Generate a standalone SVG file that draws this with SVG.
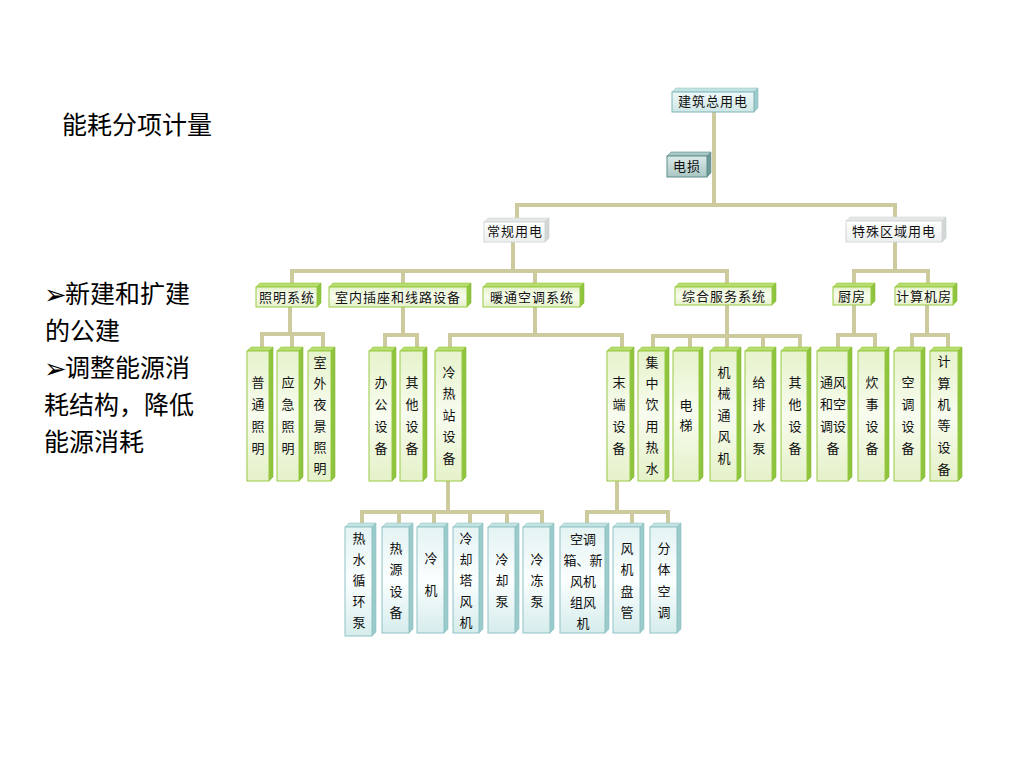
<svg xmlns="http://www.w3.org/2000/svg" width="1024" height="768" viewBox="0 0 1024 768">
<defs>
<linearGradient id="gG" x1="0" y1="0" x2="0" y2="1">
<stop offset="0" stop-color="#e6f3cc"/><stop offset="0.5" stop-color="#f8fcef"/><stop offset="1" stop-color="#e4f1c8"/>
</linearGradient>
<linearGradient id="gB" x1="0" y1="0" x2="0" y2="1">
<stop offset="0" stop-color="#e4f3f3"/><stop offset="0.5" stop-color="#fbfefe"/><stop offset="1" stop-color="#d6ecec"/>
</linearGradient>
<linearGradient id="gT" x1="0" y1="0" x2="0" y2="1">
<stop offset="0" stop-color="#eef8f8"/><stop offset="1" stop-color="#cfe7e6"/>
</linearGradient>
<linearGradient id="gW" x1="0" y1="0" x2="0" y2="1">
<stop offset="0" stop-color="#ffffff"/><stop offset="1" stop-color="#eceff0"/>
</linearGradient>
<linearGradient id="gL" x1="0" y1="0" x2="0" y2="1">
<stop offset="0" stop-color="#dbeae8"/><stop offset="1" stop-color="#a9c7c4"/>
</linearGradient>
</defs>
<style>
.c{fill:none;stroke:#cdcb9e;stroke-width:4;stroke-linecap:square}
.gf{fill:url(#gG);stroke:#98ca42;stroke-width:1}
.gt{fill:#b6dd6e;stroke:#98ca42;stroke-width:0.6}
.gr{fill:#8fc53e;stroke:#86bb38;stroke-width:0.6}
.bf{fill:url(#gB);stroke:#8fc3c5;stroke-width:1}
.bt{fill:#c3e2e2;stroke:#98c8c9;stroke-width:0.6}
.br{fill:#9ccbcc;stroke:#8cbfc0;stroke-width:0.6}
.tf{fill:url(#gT);stroke:#7fb5b6;stroke-width:1}
.wf{fill:url(#gW);stroke:#d4d8d8;stroke-width:1}
.wt{fill:#e4e7e7;stroke:#d4d8d8;stroke-width:0.6}
.wr{fill:#d2d6d6;stroke:#c8cccc;stroke-width:0.6}
.lf{fill:url(#gL);stroke:#5e8d8a;stroke-width:1}
.lt{fill:#a9c8c5;stroke:#5e8d8a;stroke-width:0.6}
.lr{fill:#6e9996;stroke:#5e8d8a;stroke-width:0.6}
.t{font-family:"Noto Sans CJK SC","Noto Sans CJK TC",sans-serif;font-size:13px;fill:#111;text-anchor:middle}
.h{letter-spacing:1px}
.big{font-family:"Noto Sans CJK SC","Noto Sans CJK TC",sans-serif;font-size:25px;fill:#000}
.ar{font-family:"DejaVu Sans",sans-serif;font-size:27px;fill:#000}
</style>
<rect width="1024" height="768" fill="#ffffff"/>

<g id="left-text">
<text class="big" x="62" y="134">能耗分项计量</text>
<text class="ar" x="44" y="304">➢</text>
<text class="big" x="65" y="303">新建和扩建</text>
<text class="big" x="45" y="340">的公建</text>
<text class="ar" x="44" y="378">➢</text>
<text class="big" x="65" y="377">调整能源消</text>
<text class="big" x="44" y="414">耗结构，降低</text>
<text class="big" x="44" y="451">能源消耗</text>
</g>

<g id="connectors">
<path class="c" d="M714 112V205M517 205H895M517 205V218M895 205V217"/>
<path class="c" d="M513 242V271M292 271H727M292 271V283M403 271V283M535 271V283M727 271V283"/>
<path class="c" d="M895 242V271M854 271H928M854 271V283M928 271V283"/>
<path class="c" d="M290 307V334M262 334H323M262 334V347M292 334V347M323 334V347"/>
<path class="c" d="M403 307V335M385 335H417M385 335V347M417 335V347"/>
<path class="c" d="M535 307V335M450 335H622M450 335V347M622 335V347"/>
<path class="c" d="M727 305V336M653 336H800M653 336V347M690 336V347M727 336V347M763 336V347M800 336V347"/>
<path class="c" d="M854 305V335M838 335H875M838 335V347M875 335V347"/>
<path class="c" d="M927 305V335M912 335H948M912 335V347M948 335V347"/>
<path class="c" d="M448 481V512M362 512H542M362 512V523M399 512V523M434 512V523M470 512V523M507 512V523M542 512V523"/>
<path class="c" d="M617 481V512M587 512H668M587 512V523M632 512V523M668 512V523"/>
</g>

<!-- top -->
<g id="n-total">
<polygon class="bt" points="672,92 676,88 758,88 754,92"/>
<polygon class="br" points="754,92 758,88 758,108 754,112"/>
<rect class="tf" x="672" y="92" width="82" height="20"/>
<text class="t h" x="713" y="106">建筑总用电</text>
</g>
<g id="n-loss">
<polygon class="lt" points="667,156 671,152 711,152 707,156"/>
<polygon class="lr" points="707,156 711,152 711,173 707,177"/>
<rect class="lf" x="667" y="156" width="40" height="21"/>
<text class="t h" x="687" y="171">电损</text>
</g>
<g id="n-regular">
<polygon class="wt" points="484,222 488,218 549,218 545,222"/>
<polygon class="wr" points="545,222 549,218 549,238 545,242"/>
<rect class="wf" x="484" y="222" width="61" height="20"/>
<text class="t h" x="515" y="236">常规用电</text>
</g>
<g id="n-special">
<polygon class="wt" points="846,221 850,217 946,217 942,221"/>
<polygon class="wr" points="942,221 946,217 946,238 942,242"/>
<rect class="wf" x="846" y="221" width="96" height="21"/>
<text class="t h" x="894" y="236">特殊区域用电</text>
</g>

<!-- level 2 -->
<g id="n-lighting">
<polygon class="gt" points="256,287 260,283 321,283 317,287"/>
<polygon class="gr" points="317,287 321,283 321,303 317,307"/>
<rect class="gf" x="256" y="287" width="61" height="20"/>
<text class="t h" x="287" y="302">照明系统</text>
</g>
<g id="n-socket">
<polygon class="gt" points="329,287 333,283 471,283 467,287"/>
<polygon class="gr" points="467,287 471,283 471,303 467,307"/>
<rect class="gf" x="329" y="287" width="138" height="20"/>
<text class="t h" x="398" y="302">室内插座和线路设备</text>
</g>
<g id="n-hvac">
<polygon class="gt" points="483,287 487,283 584,283 580,287"/>
<polygon class="gr" points="580,287 584,283 584,303 580,307"/>
<rect class="gf" x="483" y="287" width="97" height="20"/>
<text class="t h" x="532" y="302">暖通空调系统</text>
</g>
<g id="n-service">
<polygon class="gt" points="675,287 679,283 776,283 772,287"/>
<polygon class="gr" points="772,287 776,283 776,301 772,305"/>
<rect class="gf" x="675" y="287" width="97" height="18"/>
<text class="t h" x="724" y="301">综合服务系统</text>
</g>
<g id="n-kitchen">
<polygon class="gt" points="833,287 837,283 875,283 871,287"/>
<polygon class="gr" points="871,287 875,283 875,301 871,305"/>
<rect class="gf" x="833" y="287" width="38" height="18"/>
<text class="t h" x="852" y="301">厨房</text>
</g>
<g id="n-computer">
<polygon class="gt" points="895,287 899,283 957,283 953,287"/>
<polygon class="gr" points="953,287 957,283 957,301 953,305"/>
<rect class="gf" x="895" y="287" width="58" height="18"/>
<text class="t h" x="924" y="301">计算机房</text>
</g>

<!-- level 3 -->
<g id="n-l1">
<polygon class="gt" points="247,351 251,347 273,347 269,351"/>
<polygon class="gr" points="269,351 273,347 273,477 269,481"/>
<rect class="gf" x="247" y="351" width="22" height="130"/>
<text class="t"><tspan x="258" y="387">普</tspan><tspan x="258" y="409">通</tspan><tspan x="258" y="431">照</tspan><tspan x="258" y="453">明</tspan></text>
</g>
<g id="n-l2">
<polygon class="gt" points="277,351 281,347 303,347 299,351"/>
<polygon class="gr" points="299,351 303,347 303,477 299,481"/>
<rect class="gf" x="277" y="351" width="22" height="130"/>
<text class="t"><tspan x="288" y="387">应</tspan><tspan x="288" y="409">急</tspan><tspan x="288" y="431">照</tspan><tspan x="288" y="453">明</tspan></text>
</g>
<g id="n-l3">
<polygon class="gt" points="308,351 312,347 335,347 331,351"/>
<polygon class="gr" points="331,351 335,347 335,477 331,481"/>
<rect class="gf" x="308" y="351" width="23" height="130"/>
<text class="t"><tspan x="320" y="367">室</tspan><tspan x="320" y="388">外</tspan><tspan x="320" y="409">夜</tspan><tspan x="320" y="431">景</tspan><tspan x="320" y="452">照</tspan><tspan x="320" y="473">明</tspan></text>
</g>
<g id="n-s1">
<polygon class="gt" points="369,351 373,347 396,347 392,351"/>
<polygon class="gr" points="392,351 396,347 396,477 392,481"/>
<rect class="gf" x="369" y="351" width="23" height="130"/>
<text class="t"><tspan x="381" y="387">办</tspan><tspan x="381" y="409">公</tspan><tspan x="381" y="431">设</tspan><tspan x="381" y="453">备</tspan></text>
</g>
<g id="n-s2">
<polygon class="gt" points="400,351 404,347 427,347 423,351"/>
<polygon class="gr" points="423,351 427,347 427,477 423,481"/>
<rect class="gf" x="400" y="351" width="23" height="130"/>
<text class="t"><tspan x="412" y="387">其</tspan><tspan x="412" y="409">他</tspan><tspan x="412" y="431">设</tspan><tspan x="412" y="453">备</tspan></text>
</g>
<g id="n-h1">
<polygon class="gt" points="435,351 439,347 466,347 462,351"/>
<polygon class="gr" points="462,351 466,347 466,477 462,481"/>
<rect class="gf" x="435" y="351" width="27" height="130"/>
<text class="t"><tspan x="449" y="377">冷</tspan><tspan x="449" y="398">热</tspan><tspan x="449" y="420">站</tspan><tspan x="449" y="441">设</tspan><tspan x="449" y="463">备</tspan></text>
</g>
<g id="n-h2">
<polygon class="gt" points="607,351 611,347 634,347 630,351"/>
<polygon class="gr" points="630,351 634,347 634,477 630,481"/>
<rect class="gf" x="607" y="351" width="23" height="130"/>
<text class="t"><tspan x="619" y="387">末</tspan><tspan x="619" y="409">端</tspan><tspan x="619" y="431">设</tspan><tspan x="619" y="453">备</tspan></text>
</g>
<g id="n-v1">
<polygon class="gt" points="638,351 642,347 669,347 665,351"/>
<polygon class="gr" points="665,351 669,347 669,477 665,481"/>
<rect class="gf" x="638" y="351" width="27" height="130"/>
<text class="t"><tspan x="652" y="367">集</tspan><tspan x="652" y="388">中</tspan><tspan x="652" y="409">饮</tspan><tspan x="652" y="431">用</tspan><tspan x="652" y="452">热</tspan><tspan x="652" y="473">水</tspan></text>
</g>
<g id="n-v2">
<polygon class="gt" points="673,351 677,347 703,347 699,351"/>
<polygon class="gr" points="699,351 703,347 703,477 699,481"/>
<rect class="gf" x="673" y="351" width="26" height="130"/>
<text class="t"><tspan x="686" y="410">电</tspan><tspan x="686" y="430">梯</tspan></text>
</g>
<g id="n-v3">
<polygon class="gt" points="710,351 714,347 741,347 737,351"/>
<polygon class="gr" points="737,351 741,347 741,477 737,481"/>
<rect class="gf" x="710" y="351" width="27" height="130"/>
<text class="t"><tspan x="724" y="377">机</tspan><tspan x="724" y="398">械</tspan><tspan x="724" y="420">通</tspan><tspan x="724" y="441">风</tspan><tspan x="724" y="463">机</tspan></text>
</g>
<g id="n-v4">
<polygon class="gt" points="745,351 749,347 776,347 772,351"/>
<polygon class="gr" points="772,351 776,347 776,477 772,481"/>
<rect class="gf" x="745" y="351" width="27" height="130"/>
<text class="t"><tspan x="759" y="387">给</tspan><tspan x="759" y="409">排</tspan><tspan x="759" y="431">水</tspan><tspan x="759" y="453">泵</tspan></text>
</g>
<g id="n-v5">
<polygon class="gt" points="781,351 785,347 811,347 807,351"/>
<polygon class="gr" points="807,351 811,347 811,477 807,481"/>
<rect class="gf" x="781" y="351" width="26" height="130"/>
<text class="t"><tspan x="795" y="387">其</tspan><tspan x="795" y="409">他</tspan><tspan x="795" y="431">设</tspan><tspan x="795" y="453">备</tspan></text>
</g>
<g id="n-k1">
<polygon class="gt" points="817,351 821,347 852,347 848,351"/>
<polygon class="gr" points="848,351 852,347 852,477 848,481"/>
<rect class="gf" x="817" y="351" width="31" height="130"/>
<text class="t"><tspan x="833" y="387">通风</tspan><tspan x="833" y="409">和空</tspan><tspan x="833" y="431">调设</tspan><tspan x="833" y="453">备</tspan></text>
</g>
<g id="n-k2">
<polygon class="gt" points="858,351 862,347 889,347 885,351"/>
<polygon class="gr" points="885,351 889,347 889,477 885,481"/>
<rect class="gf" x="858" y="351" width="27" height="130"/>
<text class="t"><tspan x="872" y="387">炊</tspan><tspan x="872" y="409">事</tspan><tspan x="872" y="431">设</tspan><tspan x="872" y="453">备</tspan></text>
</g>
<g id="n-c1">
<polygon class="gt" points="894,351 898,347 925,347 921,351"/>
<polygon class="gr" points="921,351 925,347 925,477 921,481"/>
<rect class="gf" x="894" y="351" width="27" height="130"/>
<text class="t"><tspan x="908" y="387">空</tspan><tspan x="908" y="409">调</tspan><tspan x="908" y="431">设</tspan><tspan x="908" y="453">备</tspan></text>
</g>
<g id="n-c2">
<polygon class="gt" points="930,351 934,347 962,347 958,351"/>
<polygon class="gr" points="958,351 962,347 962,477 958,481"/>
<rect class="gf" x="930" y="351" width="28" height="130"/>
<text class="t"><tspan x="944" y="366">计</tspan><tspan x="944" y="388">算</tspan><tspan x="944" y="409">机</tspan><tspan x="944" y="430">等</tspan><tspan x="944" y="452">设</tspan><tspan x="944" y="474">备</tspan></text>
</g>

<!-- level 4 -->
<g id="n-p1">
<polygon class="bt" points="345,527 349,523 376,523 372,527"/>
<polygon class="br" points="372,527 376,523 376,632 372,636"/>
<rect class="bf" x="345" y="527" width="27" height="109"/>
<text class="t"><tspan x="359" y="543">热</tspan><tspan x="359" y="564">水</tspan><tspan x="359" y="585">循</tspan><tspan x="359" y="606">环</tspan><tspan x="359" y="627">泵</tspan></text>
</g>
<g id="n-p2">
<polygon class="bt" points="382,527 386,523 413,523 409,527"/>
<polygon class="br" points="409,527 413,523 413,629 409,633"/>
<rect class="bf" x="382" y="527" width="27" height="106"/>
<text class="t"><tspan x="396" y="553">热</tspan><tspan x="396" y="574">源</tspan><tspan x="396" y="596">设</tspan><tspan x="396" y="617">备</tspan></text>
</g>
<g id="n-p3">
<polygon class="bt" points="417,527 421,523 448,523 444,527"/>
<polygon class="br" points="444,527 448,523 448,629 444,633"/>
<rect class="bf" x="417" y="527" width="27" height="106"/>
<text class="t"><tspan x="431" y="563">冷</tspan><tspan x="431" y="595">机</tspan></text>
</g>
<g id="n-p4">
<polygon class="bt" points="453,527 457,523 483,523 479,527"/>
<polygon class="br" points="479,527 483,523 483,629 479,633"/>
<rect class="bf" x="453" y="527" width="26" height="106"/>
<text class="t"><tspan x="466" y="543">冷</tspan><tspan x="466" y="564">却</tspan><tspan x="466" y="585">塔</tspan><tspan x="466" y="606">风</tspan><tspan x="466" y="627">机</tspan></text>
</g>
<g id="n-p5">
<polygon class="bt" points="488,527 492,523 519,523 515,527"/>
<polygon class="br" points="515,527 519,523 519,629 515,633"/>
<rect class="bf" x="488" y="527" width="27" height="106"/>
<text class="t"><tspan x="502" y="564">冷</tspan><tspan x="502" y="585">却</tspan><tspan x="502" y="606">泵</tspan></text>
</g>
<g id="n-p6">
<polygon class="bt" points="523,527 527,523 554,523 550,527"/>
<polygon class="br" points="550,527 554,523 554,629 550,633"/>
<rect class="bf" x="523" y="527" width="27" height="106"/>
<text class="t"><tspan x="537" y="564">冷</tspan><tspan x="537" y="585">冻</tspan><tspan x="537" y="606">泵</tspan></text>
</g>
<g id="n-e1">
<polygon class="bt" points="560,527 564,523 609,523 605,527"/>
<polygon class="br" points="605,527 609,523 609,629 605,633"/>
<rect class="bf" x="560" y="527" width="45" height="106"/>
<text class="t"><tspan x="583" y="544">空调</tspan><tspan x="583" y="565">箱、新</tspan><tspan x="583" y="586">风机</tspan><tspan x="583" y="607">组风</tspan><tspan x="583" y="628">机</tspan></text>
</g>
<g id="n-e2">
<polygon class="bt" points="613,527 617,523 644,523 640,527"/>
<polygon class="br" points="640,527 644,523 644,629 640,633"/>
<rect class="bf" x="613" y="527" width="27" height="106"/>
<text class="t"><tspan x="627" y="553">风</tspan><tspan x="627" y="574">机</tspan><tspan x="627" y="596">盘</tspan><tspan x="627" y="617">管</tspan></text>
</g>
<g id="n-e3">
<polygon class="bt" points="650,527 654,523 681,523 677,527"/>
<polygon class="br" points="677,527 681,523 681,629 677,633"/>
<rect class="bf" x="650" y="527" width="27" height="106"/>
<text class="t"><tspan x="664" y="553">分</tspan><tspan x="664" y="574">体</tspan><tspan x="664" y="596">空</tspan><tspan x="664" y="617">调</tspan></text>
</g>
</svg>
